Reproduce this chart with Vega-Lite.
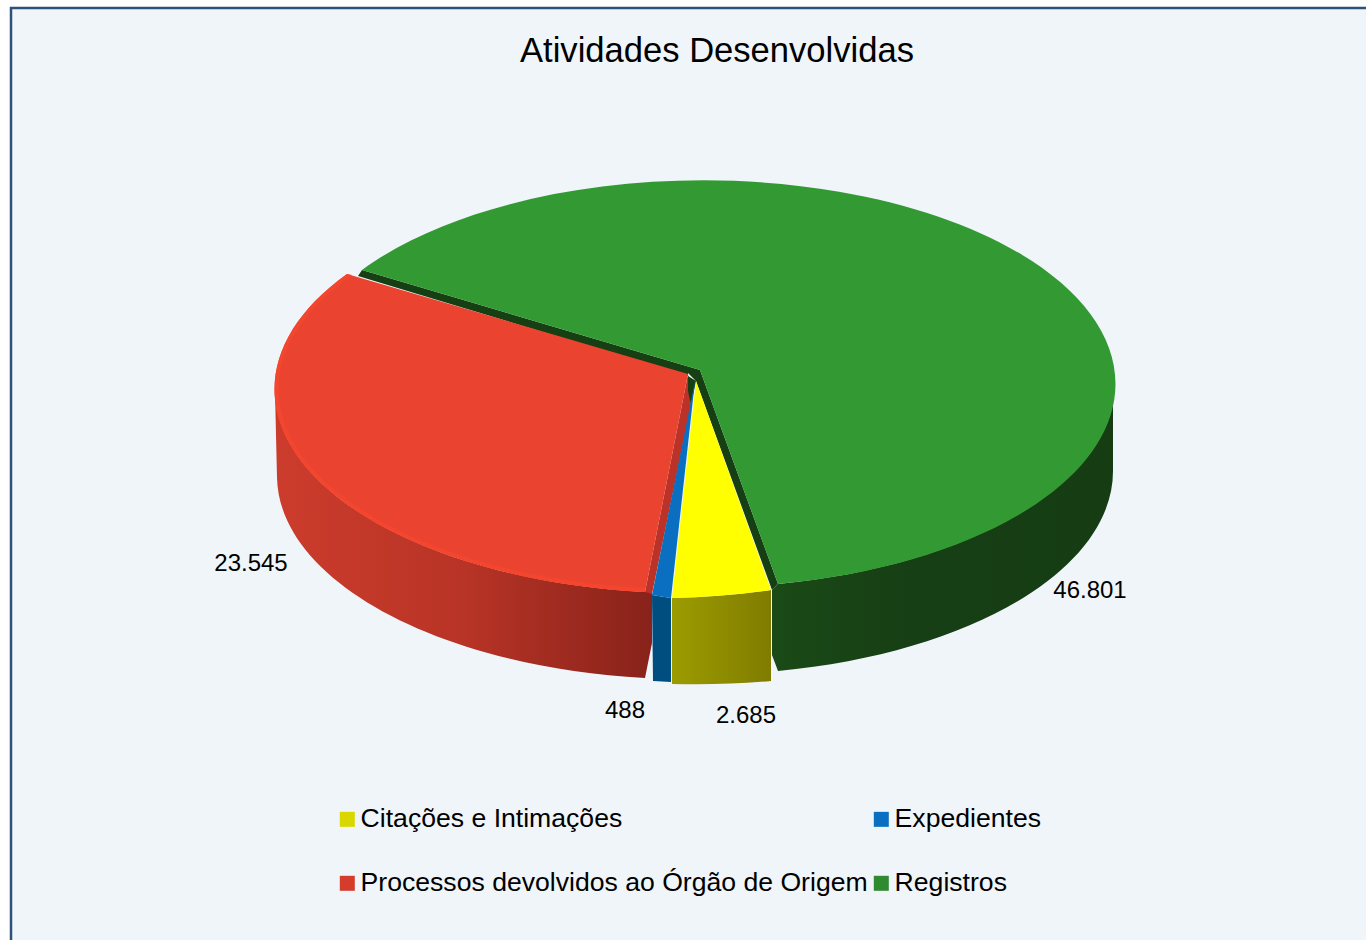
{
"$schema":"https://vega.github.io/schema/vega-lite/v6.json",
"width":1362,"height":936,
"autosize":{"type":"none"},
"padding":{"left":11,"top":8,"right":0,"bottom":0},
"background":"#ffffff",
"view":{"fill":"#eff5f9","stroke":"#2f5078","strokeWidth":2.5},
"title":{"text":"Atividades Desenvolvidas","font":"Liberation Sans","fontSize":34.6,"fontWeight":"normal","color":"#000000","anchor":"middle","frame":"group","dx":25,"offset":-89,"baseline":"alphabetic"},
"config":{"locale":{"number":{"decimal":",","thousands":".","grouping":[3],"currency":["R$",""]}}},
"data":{"values":[
{"categoria":"Citações e Intimações","valor":2685},
{"categoria":"Expedientes","valor":488},
{"categoria":"Processos devolvidos ao Órgão de Origem","valor":23545},
{"categoria":"Registros","valor":46801}
]},
"layer":[
{"mark":{"type":"point","filled":true,"opacity":1,"size":4,"strokeWidth":0,"shape":"square"},
 "encoding":{"color":{"field":"categoria","type":"nominal","scale":{"domain":["Citações e Intimações","Processos devolvidos ao Órgão de Origem","Expedientes","Registros"],"range":["#d8d800","#d43c2c","#0a6fc0","#2f8a30"]},
   "legend":{"title":null,"orient":"none","legendX":323,"legendY":798,"columns":2,"symbolType":"square","symbolSize":225,"symbolStrokeWidth":0,"labelFont":"Liberation Sans","labelFontSize":26.6,"labelColor":"#000000","labelLimit":600,"labelOffset":0,"rowPadding":37,"columnPadding":-6,"padding":0}}}},
{"transform":[{"filter":"datum.categoria==='Registros'"}],
 "mark":{"type":"point","filled":true,"opacity":1,"size":4,"strokeWidth":0,"shape":"M421,-91 A412,203.5 0 0 1 86,108 L80,114 L80,179 L86,195 A412,203.5 0 0 0 421,-5 Z","fill":{"gradient":"linear","x1":0,"y1":0,"x2":1,"y2":0,"stops":[{"offset":0,"color":"#1a4a16"},{"offset":0.4,"color":"#173f15"},{"offset":1,"color":"#153c13"}]}},"encoding":{}},
{"transform":[{"filter":"datum.categoria==='Processos devolvidos ao Órgão de Origem'"}],
 "mark":{"type":"point","filled":true,"opacity":1,"size":4,"strokeWidth":0,"shape":"M-417,-84 A415,204 0 0 0 -47,116 L-40,116 L-40,167 L-47,202 A415,204 0 0 1 -415,2 Z","fill":{"gradient":"linear","x1":0,"y1":0,"x2":1,"y2":0,"stops":[{"offset":0,"color":"#cc3c2c"},{"offset":0.5,"color":"#b83426"},{"offset":1,"color":"#88221a"}]}},"encoding":{}},
{"transform":[{"filter":"datum.categoria==='Expedientes'"}],
 "mark":{"type":"point","filled":true,"opacity":1,"size":4,"strokeWidth":0,"shape":"M-40,119 L-21,122 L-21,206 L-39,205 Z","fill":"#004d80"},"encoding":{}},
{"transform":[{"filter":"datum.categoria==='Citações e Intimações'"}],
 "mark":{"type":"point","filled":true,"opacity":1,"size":4,"strokeWidth":0,"shape":"M-20,122 L-20,208 A415,204 0 0 0 79,205 L79,114 A415,204 0 0 1 -20,122 Z","fill":{"gradient":"linear","x1":0,"y1":0,"x2":1,"y2":0,"stops":[{"offset":0,"color":"#9c9c00"},{"offset":1,"color":"#807c00"}]}},"encoding":{}},
{"transform":[{"filter":"datum.categoria==='Processos devolvidos ao Órgão de Origem'"}],
 "mark":{"type":"point","filled":true,"opacity":1,"size":4,"strokeWidth":0,"shape":"M-4,-102 L-47,116 L-40,118 L-1,-71 Z","fill":"#bb3328"},"encoding":{}},
{"transform":[{"filter":"datum.categoria==='Registros'"}],
 "mark":{"type":"point","filled":true,"opacity":1,"size":4,"strokeWidth":0,"shape":"M-330,-206 L-334,-200 L-4,-100 L4,-95 L80,114 L86,108 L8,-106 Z M-4,-103 L4,-95 L-1,-71 L-4,-85 Z","fill":"#163f14"},"encoding":{}},
{"transform":[{"filter":"datum.categoria==='Citações e Intimações'"}],
 "mark":{"type":"point","filled":true,"opacity":1,"size":4,"strokeWidth":0,"shape":"M4,-95 L79,114 A415,204 0 0 1 -20,122 Z","fill":"#ffff00"},"encoding":{}},
{"transform":[{"filter":"datum.categoria==='Expedientes'"}],
 "mark":{"type":"point","filled":true,"opacity":1,"size":4,"strokeWidth":0,"shape":"M3,-95 L-40,119 L-21,122 Z","fill":"#0a6fc0"},"encoding":{}},
{"transform":[{"filter":"datum.categoria==='Processos devolvidos ao Órgão de Origem'"}],
 "mark":{"type":"point","filled":true,"opacity":1,"size":4,"strokeWidth":0,"shape":"M-4,-102 L-345,-202 A415,204 0 0 0 -47,116 Z","fill":"#ea4430"},"encoding":{}},
{"transform":[{"filter":"datum.categoria==='Processos devolvidos ao Órgão de Origem'"}],
 "mark":{"type":"point","filled":true,"opacity":1,"size":4,"strokeWidth":0,"shape":"M-345,-202 A415,204 0 0 0 -47,116 L-47,112 A410,200 0 0 1 -340,-201 Z","fill":"#f4462f"},"encoding":{}},
{"transform":[{"filter":"datum.categoria==='Registros'"}],
 "mark":{"type":"point","filled":true,"opacity":1,"size":4,"strokeWidth":0,"shape":"M8,-106 L-330,-206 A412,203.5 0 1 1 86,108 Z","fill":"#339933"},"encoding":{}},
{"transform":[{"filter":"datum.categoria==='Processos devolvidos ao Órgão de Origem'"}],
 "mark":{"type":"text","font":"Liberation Sans","fontSize":24,"color":"#000000","align":"center","baseline":"middle","dx":-441,"dy":88},"encoding":{"text":{"field":"valor","type":"quantitative","format":",d"}}},
{"transform":[{"filter":"datum.categoria==='Registros'"}],
 "mark":{"type":"text","font":"Liberation Sans","fontSize":24,"color":"#000000","align":"center","baseline":"middle","dx":398,"dy":115},"encoding":{"text":{"field":"valor","type":"quantitative","format":",d"}}},
{"transform":[{"filter":"datum.categoria==='Expedientes'"}],
 "mark":{"type":"text","font":"Liberation Sans","fontSize":24,"color":"#000000","align":"center","baseline":"middle","dx":-67,"dy":235},"encoding":{"text":{"field":"valor","type":"quantitative","format":",d"}}},
{"transform":[{"filter":"datum.categoria==='Citações e Intimações'"}],
 "mark":{"type":"text","font":"Liberation Sans","fontSize":24,"color":"#000000","align":"center","baseline":"middle","dx":54,"dy":240},"encoding":{"text":{"field":"valor","type":"quantitative","format":",d"}}}
]
}
